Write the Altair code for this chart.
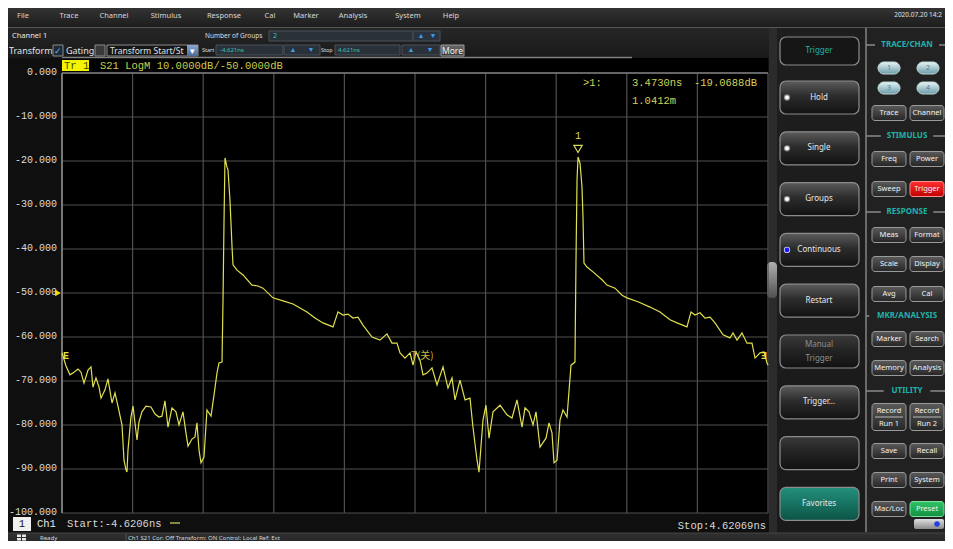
import altair as alt
import pandas as pd

START_NS = -4.6206
STOP_NS = 4.62069
DB_TOP = 0.0
DB_BOTTOM = -100.0
X_DIVISIONS = 10

trace_t = [
    -4.6206, -4.568, -4.516, -4.464, -4.411, -4.372, -4.333, -4.280, -4.241, -4.215,
    -4.176, -4.136, -4.110, -4.058, -4.019, -3.966, -3.927, -3.888, -3.835, -3.809,
    -3.783, -3.770, -3.757, -3.718, -3.691, -3.639, -3.613, -3.574, -3.521, -3.456,
    -3.403, -3.351, -3.312, -3.273, -3.233, -3.181, -3.129, -3.089, -3.037, -2.998,
    -2.971, -2.919, -2.880, -2.854, -2.827, -2.801, -2.762, -2.723, -2.670, -2.631,
    -2.592, -2.566, -2.526, -2.513, -2.500, -2.487, -2.461, -2.448, -2.422, -2.395,
    -2.382, -2.330, -2.251, -2.134, -2.055, -1.990, -1.859, -1.728, -1.597, -1.414,
    -1.309, -1.204, -1.073, -1.008, -0.942, -0.877, -0.812, -0.746, -0.681, -0.563,
    -0.458, -0.367, -0.301, -0.236, -0.196, -0.131, -0.065, -0.026, 0.013, 0.065,
    0.105, 0.157, 0.223, 0.288, 0.367, 0.432, 0.484, 0.524, 0.589, 0.655,
    0.720, 0.759, 0.812, 0.838, 0.890, 0.929, 0.969, 1.021, 1.113, 1.204,
    1.270, 1.335, 1.401, 1.440, 1.492, 1.545, 1.584, 1.636, 1.715, 1.754,
    1.793, 1.820, 1.859, 1.898, 1.937, 1.990, 2.042, 2.094, 2.107, 2.121,
    2.134, 2.160, 2.186, 2.199, 2.212, 2.251, 2.330, 2.448, 2.513, 2.618,
    2.710, 2.775, 2.919, 3.076, 3.207, 3.338, 3.430, 3.560, 3.613, 3.665,
    3.731, 3.796, 3.862, 3.927, 4.032, 4.123, 4.163, 4.215, 4.280, 4.346,
    4.411, 4.451, 4.516, 4.568, 4.608, 4.6207,
]
trace_db = [
    -63.6, -66.6, -68.6, -68.0, -67.3, -68.0, -70.5, -67.5, -66.8, -71.4,
    -69.3, -71.4, -73.9, -72.0, -69.5, -75.0, -72.7, -75.7, -80.0, -88.0,
    -90.2, -90.7, -85.7, -78.2, -75.7, -83.4, -79.3, -77.0, -75.7, -75.9,
    -77.5, -78.2, -78.0, -74.5, -80.5, -76.1, -77.0, -80.0, -77.0, -81.8,
    -84.8, -83.2, -82.7, -79.5, -85.7, -88.6, -87.3, -76.6, -78.0, -73.2,
    -68.2, -65.9, -65.7, -51.6, -33.9, -19.3, -21.4, -22.0, -28.9, -39.5,
    -43.6, -44.8, -45.9, -48.2, -48.4, -48.9, -51.1, -51.8, -52.5, -54.3,
    -55.7, -56.8, -57.7, -54.3, -55.0, -54.8, -55.7, -55.5, -57.3, -60.0,
    -60.7, -59.3, -61.4, -61.4, -63.6, -64.8, -63.6, -66.4, -63.4, -65.2,
    -68.6, -68.2, -67.0, -70.9, -66.8, -71.6, -69.3, -74.3, -69.8, -74.3,
    -73.9, -80.5, -88.0, -90.7, -78.9, -75.5, -83.0, -77.0, -75.5, -77.7,
    -78.4, -74.3, -80.5, -76.1, -77.0, -80.0, -77.0, -85.0, -83.0, -79.5,
    -81.8, -88.6, -88.0, -78.9, -76.6, -78.2, -66.4, -65.7, -43.2, -24.3,
    -19.07, -20.5, -25.9, -32.7, -43.2, -44.1, -45.2, -47.0, -48.2, -48.9,
    -50.5, -51.1, -52.0, -53.2, -54.3, -56.1, -56.8, -57.7, -54.3, -55.0,
    -54.5, -55.7, -55.5, -56.8, -59.5, -60.2, -59.1, -60.7, -59.1, -61.4,
    -61.4, -64.8, -63.6, -63.4, -65.9, -66.4,
]

y_ticks = [0, -10, -20, -30, -40, -50, -60, -70, -80, -90, -100]
y_tick_labels = ["0.000", "-10.000", "-20.000", "-30.000", "-40.000", "-50.000",
                 "-60.000", "-70.000", "-80.000", "-90.000", "-100.000"]

ref_level_db = -50
marker_id = "1"
marker_t = 2.134
marker_db = -19.07
marker_readout = [">1:", "3.4730ns", "-19.0688dB", "1.0412m"]
gate_label = "T(关)"
gate_t = 0.0
gate_db = -64.3
trace_header = ["Tr 1", "S21 LogM 10.0000dB/-50.0000dB"]
channel_label = ["1", "Ch1"]
start_label = "Start:-4.6206ns"
stop_label = "Stop:4.62069ns"

menu_items = ["File", "Trace", "Channel", "Stimulus", "Response", "Cal",
              "Marker", "Analysis", "System", "Help"]
date_label = "2020.07.20 14:2"
trigger_buttons = ["Trigger", "Hold", "Single", "Groups", "Continuous", "Restart",
                   "Manual\nTrigger", "Trigger...", "", "Favorites"]
sections = ["TRACE/CHAN", "STIMULUS", "RESPONSE", "MKR/ANALYSIS", "UTILITY"]
trace_keys = ["1", "2", "3", "4"]
left_keys = ["Trace", "Freq", "Sweep", "Meas", "Scale", "Avg", "Marker", "Memory",
             "Record\nRun 1", "Save", "Print", "Mac/Loc"]
right_keys = ["Channel", "Power", "Trigger", "Format", "Display", "Cal", "Search",
              "Analysis", "Record\nRun 2", "Recall", "System", "Preset"]
status_items = ["Ready", "Ch1   S21   Cor: Off   Transform: ON   Control: Local   Ref: Ext"]

# ---------------- layout / styles ----------------
OFF = 8
W, H = 937, 533
MONO = "Liberation Mono"
UI = "Noto Sans"
YEL = "#e0e050"
YEL_TXT = "#d2d25a"
GRID = "#505050"
TEAL = "#22b2a8"

one = pd.DataFrame({"k": [0]})


def px(v):
    return v - OFF


def vgrad(*stops):
    return {"gradient": "linear", "x1": 0, "x2": 0, "y1": 0, "y2": 1,
            "stops": [{"offset": o, "color": c} for o, c in stops]}


def box(x1, y1, x2, y2, fill="transparent", stroke=None, sw=1.0, r=0):
    kw = {"fill": fill}
    if stroke is not None:
        kw["stroke"] = stroke
        kw["strokeWidth"] = sw
    if r:
        kw["cornerRadius"] = r
    return alt.Chart(one).mark_rect(**kw).encode(
        x=alt.value(px(x1)), x2=alt.value(px(x2)),
        y=alt.value(px(y1)), y2=alt.value(px(y2)))


def label(s, x, y, size=8, color="#dddddd", font=UI, align="left",
          baseline="middle", weight="normal", line_height=14):
    kw = dict(fontSize=size, color=color, font=font, align=align,
              baseline=baseline, fontWeight=weight)
    if "\n" in s:
        txt = s.split("\n")
        kw["lineHeight"] = line_height
        y = y - (len(txt) - 1) * line_height / 2.0
    else:
        txt = s
    return alt.Chart(one).mark_text(**kw).encode(
        x=alt.value(px(x)), y=alt.value(px(y)), text=alt.value(txt))


def hline(x1, x2, y, color, sw=1.0):
    return alt.Chart(one).mark_rule(color=color, strokeWidth=sw).encode(
        x=alt.value(px(x1)), x2=alt.value(px(x2)), y=alt.value(px(y)))


def vline(x, y1, y2, color, sw=1.0):
    return alt.Chart(one).mark_rule(color=color, strokeWidth=sw).encode(
        x=alt.value(px(x)), y=alt.value(px(y1)), y2=alt.value(px(y2)))


def dot(x, y, size, color):
    return alt.Chart(one).mark_circle(size=size, color=color, opacity=1).encode(
        x=alt.value(px(x)), y=alt.value(px(y)))


layers = []

# ---- window chrome: menu bar ----
layers.append(box(0, 0, 953, 27, fill=vgrad((0, "#3c3c3c"), (1, "#1d1d1d"))))
layers.append(hline(0, 953, 27.5, "#555555"))
menu_x = [23, 69, 114, 166, 224, 270, 306, 353, 408, 451]
for name, mx in zip(menu_items, menu_x):
    layers.append(label(name, mx, 15.5, size=7.5, color="#d6d6d6", align="center"))
layers.append(label(date_label, 942, 15, size=6.5, color="#e0e0e0", align="right"))

# ---- toolbar ----
layers.append(box(0, 28, 777, 58, fill=vgrad((0, "#262626"), (1, "#191919"))))
layers.append(label("Channel 1", 12, 36, size=7.5, color="#e6e6e6"))
layers.append(label("Number of Groups", 205, 36, size=6.5, color="#dddddd"))
layers.append(box(269, 31, 413, 41, fill="#2a3138", stroke="#4a5058"))
layers.append(label("2", 273, 36, size=7, color="#35c2c8"))
layers.append(box(413, 31, 440, 41, fill="#2a3440", stroke="#4a5058"))
layers.append(label("▲", 421, 36, size=7, color="#3d9be9", align="center"))
layers.append(label("▼", 433, 36, size=7, color="#3d9be9", align="center"))

layers.append(label("Transform", 9, 51, size=9, color="#e0e0e0"))
layers.append(box(53, 45, 63, 56, fill="#1e2a36", stroke="#8a8a8a"))
layers.append(label("✓", 58, 51, size=9, color="#5fb0ff", align="center"))
layers.append(label("Gating", 66, 51, size=9, color="#e0e0e0"))
layers.append(box(95, 45, 105, 56, fill="#3a3a3a", stroke="#8a8a8a"))
layers.append(box(107, 45, 198, 56, fill="#161616", stroke="#8a8a8a"))
layers.append(label("Transform Start/St", 110, 51, size=8.5, color="#e0e0e0"))
layers.append(box(187, 45, 198, 56, fill=vgrad((0, "#8aa8d0"), (1, "#4a6a98"))))
layers.append(label("▾", 192.5, 51, size=9, color="#ffffff", align="center"))
layers.append(label("Start", 202, 50, size=5.5, color="#dddddd"))
layers.append(box(216, 45, 283, 55, fill="#2a3138", stroke="#4a5058"))
layers.append(label("-4.621ns", 220, 50, size=6, color="#35c2c8"))
layers.append(box(284, 45, 320, 55, fill="#2a3138", stroke="#4a5058"))
layers.append(label("▲", 293, 50, size=7, color="#3d9be9", align="center"))
layers.append(label("▼", 311, 50, size=7, color="#3d9be9", align="center"))
layers.append(label("Stop", 321, 50, size=5.5, color="#dddddd"))
layers.append(box(335, 45, 400, 55, fill="#2a3138", stroke="#4a5058"))
layers.append(label("4.621ns", 338, 50, size=6, color="#35c2c8"))
layers.append(box(402, 45, 440, 55, fill="#2a3138", stroke="#4a5058"))
layers.append(label("▲", 411, 50, size=7, color="#3d9be9", align="center"))
layers.append(label("▼", 430, 50, size=7, color="#3d9be9", align="center"))
layers.append(box(441, 45, 464, 56, fill=vgrad((0, "#6a6a6a"), (1, "#3a3a3a")), stroke="#999999"))
layers.append(label("More", 452.5, 51, size=8.5, color="#f0f0f0", align="center"))

# ---- plot panel background ----
layers.append(box(0, 58, 769, 537, fill="#0f0f0f"))
layers.append(box(62, 58, 768, 513, fill="#000000"))
layers.append(hline(62, 632, 57.5, "#808080", sw=1.5))
layers.append(box(769, 28, 777, 537, fill="#2b2b2b"))
layers.append(box(767, 262, 777, 298, fill=vgrad((0, "#b0b0b0"), (1, "#505050")), r=4))

# ---- scales for the measurement ----
xs = alt.Scale(domain=[START_NS, STOP_NS], range=[px(62), px(768)], nice=False, zero=False)
ys = alt.Scale(domain=[DB_BOTTOM, DB_TOP], range=[px(513), px(73)], nice=False, zero=False)

xgrid_df = pd.DataFrame({"t": [START_NS + k * (STOP_NS - START_NS) / X_DIVISIONS
                               for k in range(X_DIVISIONS + 1)]})
ygrid_df = pd.DataFrame({"db": y_ticks, "lab": y_tick_labels})

layers.append(alt.Chart(xgrid_df).mark_rule(color=GRID, strokeWidth=1.2).encode(
    x=alt.X("t:Q", scale=xs), y=alt.datum(DB_TOP), y2=alt.datum(DB_BOTTOM)))
layers.append(alt.Chart(ygrid_df).mark_rule(color=GRID, strokeWidth=1.2).encode(
    y=alt.Y("db:Q", scale=ys), x=alt.datum(START_NS), x2=alt.datum(STOP_NS)))
layers.append(alt.Chart(one).mark_rule(color="#8a8a8a", strokeWidth=1.6).encode(
    x=alt.datum(START_NS), y=alt.datum(DB_TOP), y2=alt.datum(DB_BOTTOM)))
layers.append(alt.Chart(one).mark_rule(color="#7a7a7a", strokeWidth=1.6).encode(
    y=alt.datum(DB_TOP), x=alt.datum(START_NS), x2=alt.datum(STOP_NS)))

# y labels
layers.append(alt.Chart(ygrid_df).mark_text(
    align="right", baseline="middle", font=MONO, fontSize=10,
    color="#dcdcdc", dx=-5, dy=-1).encode(
    x=alt.datum(START_NS), y=alt.Y("db:Q", scale=ys), text="lab:N"))

# trace
trace_df = pd.DataFrame({"t": trace_t, "db": trace_db, "i": list(range(len(trace_t)))})
layers.append(alt.Chart(trace_df).mark_line(color=YEL, strokeWidth=1.2).encode(
    x=alt.X("t:Q", scale=xs), y=alt.Y("db:Q", scale=ys), order="i:Q"))

# reference level arrow
layers.append(alt.Chart(one).mark_point(
    shape="triangle-right", filled=True, size=45, color="#f2e400", opacity=1,
    xOffset=-4).encode(x=alt.datum(START_NS), y=alt.datum(ref_level_db)))

# marker 1
layers.append(alt.Chart(one).mark_point(
    shape="triangle-down", filled=False, size=70, color="#d8d860", strokeWidth=1.2,
    opacity=1, yOffset=-8).encode(x=alt.datum(marker_t), y=alt.datum(marker_db)))
layers.append(alt.Chart(one).mark_text(
    font=MONO, fontSize=10, color="#d8d860", dy=-21).encode(
    x=alt.datum(marker_t), y=alt.datum(marker_db), text=alt.value(marker_id)))

# gate markers
layers.append(alt.Chart(one).mark_text(
    font="Noto Sans CJK SC", fontSize=10, color="#c8b848", align="left", dx=-4).encode(
    x=alt.datum(gate_t), y=alt.datum(gate_db), text=alt.value(gate_label)))
layers.append(alt.Chart(one).mark_text(
    font=MONO, fontSize=10, color="#e6e040", align="left", dx=1, fontWeight="bold").encode(
    x=alt.datum(START_NS), y=alt.datum(gate_db), text=alt.value("E")))
layers.append(alt.Chart(one).mark_text(
    font=MONO, fontSize=10, color="#e6e040", align="right", dx=-1, fontWeight="bold").encode(
    x=alt.datum(STOP_NS), y=alt.datum(gate_db), text=alt.value("Ǝ")))

# header and readout
layers.append(box(62, 60, 89, 71, fill="#f4f400"))
layers.append(label(trace_header[0], 64, 66, size=10.5, color="#4a4a00", font=MONO))
layers.append(label(trace_header[1], 100, 66, size=10.5, color="#cccc4c", font=MONO))
layers.append(label(marker_readout[0], 583, 83, size=10.5, color=YEL_TXT, font=MONO))
layers.append(label(marker_readout[1], 632, 83, size=10.5, color=YEL_TXT, font=MONO))
layers.append(label(marker_readout[2], 694, 83, size=10.5, color=YEL_TXT, font=MONO))
layers.append(label(marker_readout[3], 632, 101, size=10.5, color=YEL_TXT, font=MONO))

# bottom line of the plot panel
layers.append(box(13, 517, 31, 531, fill="#f0f0f0"))
layers.append(label(channel_label[0], 22, 524, size=10.5, color="#111111", font=MONO, align="center"))
layers.append(label(channel_label[1], 37, 524, size=10.5, color="#e8e8e8", font=MONO))
layers.append(label(start_label, 67, 524, size=10.5, color="#d8d8d8", font=MONO))
layers.append(hline(170, 180, 523, "#d8d860", sw=1.2))
layers.append(label(stop_label, 766, 526, size=10.5, color="#d8d8d8", font=MONO, align="right"))

# ---- right panel ----
layers.append(box(777, 28, 866, 537, fill=vgrad((0, "#1e1e1e"), (1, "#1a1a1a"))))
layers.append(box(866, 28, 953, 537, fill="#212121"))
layers.append(vline(866, 28, 532, "#6a6a6a", sw=2))

BTN = vgrad((0, "#5c5c5c"), (0.45, "#2c2c2c"), (1, "#121212"))
BTN_DIM = vgrad((0, "#3a3a3a"), (0.5, "#222222"), (1, "#121212"))
for i, name in enumerate(trigger_buttons):
    if i == 0:
        top, bot = 37, 65
    else:
        top = 81 + (i - 1) * 50.8
        bot = top + 33
    cy = (top + bot) / 2
    fill, tcol = BTN, "#e8e8e8"
    if i == 0:
        fill, tcol = "#161616", TEAL
    elif name in ("Manual\nTrigger", ""):
        fill, tcol = BTN_DIM, "#8e8e8e"
    elif name == "Favorites":
        fill = vgrad((0, "#23907c"), (1, "#0c5446"))
    layers.append(box(780, top, 859, bot, fill=fill, stroke="#8c8c8c", sw=1.2, r=6))
    if name:
        layers.append(label(name, 819, cy, size=8, color=tcol, align="center", line_height=14))
    if name in ("Hold", "Single", "Groups"):
        layers.append(dot(787, cy, 40, "#8a8a8a"))
        layers.append(dot(787, cy, 16, "#ffffff"))
    if name == "Continuous":
        layers.append(dot(787, cy, 40, "#d0d0ff"))
        layers.append(dot(787, cy, 22, "#1a1aff"))

section_y = [45, 136, 212, 316, 391]
for name, sy in zip(sections, section_y):
    hw = len(name) * 2.9 + 3
    layers.append(hline(866, 907 - hw, sy, "#8a8a8a", sw=1.5))
    layers.append(hline(907 + hw, 953, sy, "#8a8a8a", sw=1.5))
    layers.append(label(name, 907, sy, size=8, color=TEAL, align="center", weight="bold"))

oval_pos = [(889, 68), (928, 68), (889, 88), (928, 88)]
for k, (ox, oy) in zip(trace_keys, oval_pos):
    layers.append(box(ox - 11, oy - 6, ox + 11, oy + 6,
                      fill=vgrad((0, "#e6f6f6"), (1, "#6a9aa6")), stroke="#c0d8d8", r=6))
    layers.append(label(k, ox, oy, size=7, color="#4a7aa0", align="center"))

row_y = [113, 159, 189, 235, 264, 294, 339, 368, 417, 451, 480, 509]
SM = vgrad((0, "#5a5a5a"), (1, "#262626"))
for lk, rk, ry in zip(left_keys, right_keys, row_y):
    hh = 13.5 if "\n" in lk else 7.5
    for name, x1, x2 in ((lk, 872, 906), (rk, 910, 944)):
        fill, stroke = SM, "#9a9a9a"
        if name == "Trigger":
            fill, stroke = vgrad((0, "#ff3030"), (1, "#c00000")), "#ff9090"
        elif name == "Preset":
            fill, stroke = vgrad((0, "#30c468"), (1, "#129040")), "#80e0a0"
        layers.append(box(x1, ry - hh, x2, ry + hh, fill=fill, stroke=stroke, r=3))
        layers.append(label(name, (x1 + x2) / 2, ry, size=7.5, color="#f2f2f2",
                            align="center", line_height=13))
        if "\n" in name:
            layers.append(hline(x1 + 3, x2 - 3, ry, "#bbbbbb", sw=1))

layers.append(box(914, 519, 944, 529, fill=vgrad((0, "#e0e0e0"), (1, "#8a8a8a")), r=2))
layers.append(dot(937, 524, 30, "#2040e0"))

# ---- status bar (moved up slightly so it stays inside the window) ----
layers.append(box(0, 533, 953, 549, fill=vgrad((0, "#303030"), (1, "#202020"))))
layers.append(hline(0, 953, 533, "#444444"))
layers.append(box(17, 534.5, 21, 537, fill="#e8e8e8"))
layers.append(box(22, 534.5, 26, 537, fill="#e8e8e8"))
layers.append(box(17, 538, 21, 540.5, fill="#e8e8e8"))
layers.append(box(22, 538, 26, 540.5, fill="#e8e8e8"))
layers.append(label(status_items[0], 40, 537.5, size=6, color="#d8d8d8"))
layers.append(vline(126, 534, 541, "#555555"))
layers.append(label(status_items[1], 128, 537.5, size=6, color="#d8d8d8"))

chart = alt.layer(*layers).properties(
    width=W, height=H, padding=0,
    autosize=alt.AutoSizeParams(type="none"),
    background="#141414",
).configure_view(stroke="transparent").configure_axis(disable=True)

chart.save("out.html", embed_options={"renderer": "svg", "actions": False})
